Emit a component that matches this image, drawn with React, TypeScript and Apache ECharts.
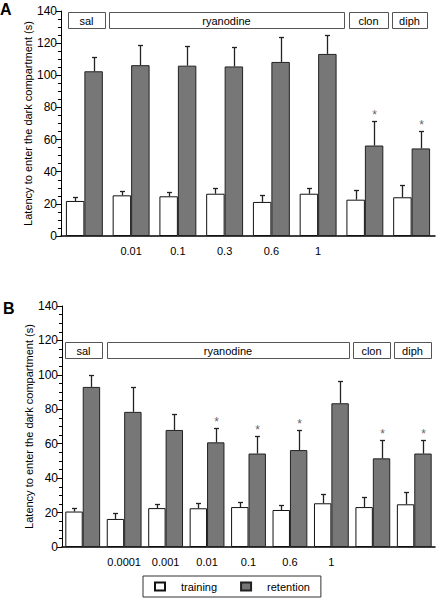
import React, { useEffect, useRef } from "react";
import * as echarts from "echarts";

// ---- Data ----
const groupsA = ["sal", "0.01", "0.1", "0.3", "0.6", "1", "clon", "diph"];
const trainingA = [21.8, 25.3, 24.7, 26.3, 21.2, 26.3, 22.6, 24.1];
const trainingErrA = [2.2, 2.9, 2.9, 3.6, 4.1, 3.6, 5.8, 7.4];
const retentionA = [102.5, 106.3, 106, 105.5, 108.3, 113.3, 56.3, 54.5];
const retentionErrA = [9, 12.8, 12.3, 12.3, 15.8, 12, 15.2, 11];
const starsA = [0, 0, 0, 0, 0, 0, 1, 1];

const groupsB = ["sal", "0.0001", "0.001", "0.01", "0.1", "0.6", "1", "clon", "diph"];
const trainingB = [20.6, 16.3, 22.6, 22.5, 23.2, 21.5, 25.4, 23.2, 24.8];
const trainingErrB = [1.8, 3.2, 2.6, 3.3, 3.2, 3.1, 5.3, 5.6, 7.2];
const retentionB = [93, 78.5, 68, 60.8, 54.3, 56.3, 83.5, 51.5, 54.3];
const retentionErrB = [7, 14.2, 9.4, 8.5, 10.2, 11.5, 13, 10.5, 7.7];
const starsB = [0, 0, 0, 1, 1, 1, 0, 1, 1];

const hiddenLabels = ["sal", "clon", "diph"];
const yTicks = { min: 0, max: 140, interval: 20 };
const yName = "Latency to enter the dark compartment (s)";
const seriesNames = ["training", "retention"];

const FONT = "'Liberation Sans', Arial, Helvetica, sans-serif";
const GAP_A = 0.21;
const GAP_B = 0.16;

function errRender(which: number, gapFrac: number) {
  return (params: any, api: any) => {
    const idx = api.value(0);
    const top = api.coord([idx, api.value(1)]);
    const base = api.coord([idx, api.value(2)]);
    const band = api.size([1, 0])[0];
    const bw = (band * (1 - gapFrac)) / 2;
    const x = Math.round(base[0] + (which === 0 ? -bw / 2 : bw / 2)) + 0.5;
    const yt = Math.round(top[1]) + 0.5;
    const children: any[] = [
      { type: "line", shape: { x1: x, y1: base[1], x2: x, y2: yt }, style: { stroke: "#222", lineWidth: 1.3 } },
      { type: "line", shape: { x1: x - 2.5, y1: yt, x2: x + 2.5, y2: yt }, style: { stroke: "#222", lineWidth: 1.3 } },
    ];
    if (api.value(3)) {
      children.push({
        type: "text",
        x: x,
        y: yt - 1,
        style: {
          text: "*",
          textAlign: "center",
          textVerticalAlign: "bottom",
          verticalAlign: "bottom",
          fontSize: 12,
          fontFamily: FONT,
          fill: "#666",
        },
      });
    }
    return { type: "group", children };
  };
}

function makeAxesY(gridIndex: number) {
  return {
    type: "value",
    gridIndex,
    min: yTicks.min,
    max: yTicks.max,
    interval: yTicks.interval,
    name: yName,
    nameLocation: "middle",
    nameGap: 28,
    nameMoveOverlap: false,
    nameTextStyle: { fontSize: 11, fontFamily: FONT, color: "#000" },
    axisLine: { show: true, lineStyle: { color: "#000", width: 1 } },
    axisTick: { show: true, length: 5, lineStyle: { color: "#000" } },
    minorTick: { show: true, splitNumber: 4, length: 3, lineStyle: { color: "#000" } },
    splitLine: { show: false },
    axisLabel: { fontSize: 12, fontFamily: FONT, color: "#000", margin: 4 },
  };
}

function makeAxisX(gridIndex: number, groups: string[]) {
  return {
    type: "category",
    gridIndex,
    data: groups,
    axisLine: { show: true, lineStyle: { color: "#000", width: 1.5 } },
    axisTick: { show: false },
    axisLabel: {
      fontSize: 11,
      fontFamily: FONT,
      color: "#000",
      margin: 9,
      interval: 0,
      formatter: (v: string) => (hiddenLabels.includes(v) ? "" : v),
    },
  };
}

function headerBoxes(y: number, boxes: { x: number; w: number; t: string }[]) {
  const out: any[] = [];
  boxes.forEach((b) => {
    out.push({
      type: "rect",
      shape: { x: b.x + 0.5, y: y + 0.5, width: b.w, height: 16 },
      style: { fill: "#fff", stroke: "#555", lineWidth: 1 },
    });
    out.push({
      type: "text",
      x: b.x + b.w / 2,
      y: y + 8.5,
      style: {
        text: b.t,
        textAlign: "center",
        textVerticalAlign: "middle",
        verticalAlign: "middle",
        fontSize: 11,
        fontFamily: FONT,
        fill: "#000",
      },
    });
  });
  return out;
}

export default function App() {
  const ref = useRef<HTMLDivElement>(null);
  useEffect(() => {
    if (!ref.current) return;
    const chart = echarts.init(ref.current, null, { renderer: "svg" });
    const trainStyle = { color: "#fff", borderColor: "#111", borderWidth: 1 };
    const retStyle = { color: "#777", borderColor: "#222", borderWidth: 1 };

    const mkErr = (groups: string[], vals: number[], errs: number[], stars: number[] | null) =>
      groups.map((_, i) => [i, vals[i] + errs[i], vals[i], stars ? stars[i] : 0]);

    const option: any = {
      animation: false,
      textStyle: { fontFamily: FONT },
      grid: [
        { left: 61, top: 11, width: 374, height: 225 },
        { left: 62, top: 306, width: 373, height: 241 },
      ],
      xAxis: [makeAxisX(0, groupsA), makeAxisX(1, groupsB)],
      yAxis: [makeAxesY(0), makeAxesY(1)],
      legend: {
        data: seriesNames,
        left: 143,
        top: 576,
        orient: "horizontal",
        icon: "rect",
        itemWidth: 10,
        itemHeight: 8,
        itemGap: 23,
        padding: [5, 11, 5, 11],
        borderColor: "#333",
        borderWidth: 1,
        selectedMode: false,
        textStyle: { fontSize: 11, fontFamily: FONT, color: "#000", padding: [0, 0, 0, 11] },
      },
      series: [
        { name: seriesNames[0], type: "bar", xAxisIndex: 0, yAxisIndex: 0, data: trainingA, barGap: "0%", barCategoryGap: GAP_A * 100 + "%", itemStyle: trainStyle },
        { name: seriesNames[1], type: "bar", xAxisIndex: 0, yAxisIndex: 0, data: retentionA, barGap: "0%", barCategoryGap: GAP_A * 100 + "%", itemStyle: retStyle },
        { name: seriesNames[0], type: "bar", xAxisIndex: 1, yAxisIndex: 1, data: trainingB, barGap: "0%", barCategoryGap: GAP_B * 100 + "%", itemStyle: trainStyle },
        { name: seriesNames[1], type: "bar", xAxisIndex: 1, yAxisIndex: 1, data: retentionB, barGap: "0%", barCategoryGap: GAP_B * 100 + "%", itemStyle: retStyle },
        { type: "custom", name: "errTA", xAxisIndex: 0, yAxisIndex: 0, z: 5, silent: true, encode: { x: 0, y: [1, 2] }, renderItem: errRender(0, GAP_A), data: mkErr(groupsA, trainingA, trainingErrA, null) },
        { type: "custom", name: "errRA", xAxisIndex: 0, yAxisIndex: 0, z: 5, silent: true, encode: { x: 0, y: [1, 2] }, renderItem: errRender(1, GAP_A), data: mkErr(groupsA, retentionA, retentionErrA, starsA) },
        { type: "custom", name: "errTB", xAxisIndex: 1, yAxisIndex: 1, z: 5, silent: true, encode: { x: 0, y: [1, 2] }, renderItem: errRender(0, GAP_B), data: mkErr(groupsB, trainingB, trainingErrB, null) },
        { type: "custom", name: "errRB", xAxisIndex: 1, yAxisIndex: 1, z: 5, silent: true, encode: { x: 0, y: [1, 2] }, renderItem: errRender(1, GAP_B), data: mkErr(groupsB, retentionB, retentionErrB, starsB) },
      ],
      graphic: [
        { type: "text", x: 0, y: 1, style: { text: "A", fontSize: 16, fontWeight: "bold", fontFamily: FONT, fill: "#000" } },
        { type: "text", x: 3, y: 300, style: { text: "B", fontSize: 16, fontWeight: "bold", fontFamily: FONT, fill: "#000" } },
        ...headerBoxes(12, [
          { x: 68, w: 37, t: "sal" },
          { x: 109, w: 235, t: "ryanodine" },
          { x: 349, w: 39, t: "clon" },
          { x: 392, w: 35, t: "diph" },
        ]),
        ...headerBoxes(342, [
          { x: 65, w: 37, t: "sal" },
          { x: 107, w: 242, t: "ryanodine" },
          { x: 353, w: 37, t: "clon" },
          { x: 394, w: 37, t: "diph" },
        ]),
      ],
    };
    chart.setOption(option);
    return () => chart.dispose();
  }, []);
  return (
    <div
      ref={ref}
      style={{ position: "absolute", left: 0, top: 0, width: 444, height: 601, background: "#fff" }}
    />
  );
}
